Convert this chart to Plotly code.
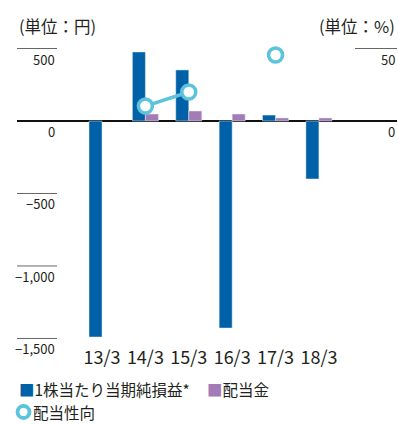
import plotly.graph_objects as go

years = ["13/3", "14/3", "15/3", "16/3", "17/3", "18/3"]
eps = [-1490, 476, 352, -1428, 41, -400]          # 1株当たり当期純損益（円）
dividend = [None, 48, 69, 48, 21, 21]             # 配当金（円）
payout = [None, 10.3, 20.0, None, 45.5, None]     # 配当性向（%）

left_ticks = [500, -500, -1000, -1500]
left_labels = ["500", "−500", "−1,000", "−1,500"]
right_ticks = [50]
right_labels = ["50"]

BLUE = "#0060a8"
PURPLE = "#a27bb7"
CYAN = "#5bc3dc"
TEXT = "#231f20"
FONT = "Noto Sans CJK JP, Open Sans, sans-serif"

W, H = 398, 424
L, R, T, B = 17, 1, 40, 79
plot_w = W - L - R
plot_h = H - T - B

fig = go.Figure()
fig.add_trace(go.Bar(x=years, y=eps, marker_color=BLUE, offsetgroup="a",
                     name="1株当たり当期純損益*"))
fig.add_trace(go.Bar(x=years, y=dividend, marker_color=PURPLE, offsetgroup="b",
                     name="配当金"))
fig.add_trace(go.Scatter(x=years, y=payout, yaxis="y2", mode="lines+markers",
                         connectgaps=False, name="配当性向",
                         line=dict(color=CYAN, width=3.5),
                         marker=dict(size=14, color="white",
                                     line=dict(color=CYAN, width=3.5))))

ymin, ymax = -1545, 558.6

ann = []
shapes = []
# 左軸の目盛り（短い線 + その下のラベル）
lx = (57 - L) / plot_w
for v, t in zip(left_ticks, left_labels):
    shapes.append(dict(type="line", xref="paper", yref="y", x0=0, x1=lx, y0=v, y1=v,
                       line=dict(color="#666", width=1)))
    ann.append(dict(text=t, xref="paper", yref="y", x=lx, y=v, xanchor="right",
                    yanchor="top", yshift=1, showarrow=False,
                    font=dict(size=13, color=TEXT)))
ann.append(dict(text="0", xref="paper", yref="y", x=lx, y=0, xanchor="right",
                yanchor="top", yshift=1, showarrow=False, font=dict(size=13, color=TEXT)))
# 右軸
rx0 = (355 - L) / plot_w
for v, t in zip(right_ticks, right_labels):
    shapes.append(dict(type="line", xref="paper", yref="y2", x0=rx0, x1=1, y0=v, y1=v,
                       line=dict(color="#666", width=1)))
    ann.append(dict(text=t, xref="paper", yref="y2", x=1, y=v, xanchor="right",
                    yanchor="top", yshift=1, showarrow=False,
                    font=dict(size=13, color=TEXT)))
ann.append(dict(text="0", xref="paper", yref="y2", x=1, y=0, xanchor="right",
                yanchor="top", yshift=1, showarrow=False, font=dict(size=13, color=TEXT)))

# 単位
ann.append(dict(text="(単位：円)", xref="paper", yref="paper", x=0, y=1 + 14 / plot_h,
                xanchor="left", yanchor="middle", showarrow=False,
                font=dict(size=16.5, color=TEXT)))
ann.append(dict(text="(単位：%)", xref="paper", yref="paper", x=1, y=1 + 14 / plot_h,
                xanchor="right", yanchor="middle", showarrow=False,
                font=dict(size=16.5, color=TEXT)))

# 凡例
row1 = -(389 - 345) / plot_h
row2 = -(412 - 345) / plot_h
ann.append(dict(text=f"<span style='color:{BLUE}'>■</span>1株当たり当期純損益*",
                xref="paper", yref="paper", x=0, y=row1,
                xanchor="left", yanchor="middle", showarrow=False,
                font=dict(size=15.5, color=TEXT)))
ann.append(dict(text=f"<span style='color:{PURPLE}'>■</span>配当金",
                xref="paper", yref="paper", x=(205 - L) / plot_w, y=row1,
                xanchor="left", yanchor="middle", showarrow=False,
                font=dict(size=15.5, color=TEXT)))
ann.append(dict(text="配当性向",
                xref="paper", yref="paper", x=(31 - L) / plot_w, y=row2,
                xanchor="left", yanchor="middle", showarrow=False,
                font=dict(size=15.5, color=TEXT)))
shapes.append(dict(type="circle", xref="paper", yref="paper",
                   xsizemode="pixel", ysizemode="pixel",
                   xanchor=(23.5 - L) / plot_w, yanchor=row2,
                   x0=-6, x1=6, y0=-6, y1=6,
                   line=dict(color=CYAN, width=3.8), fillcolor="white"))

fig.update_layout(
    width=W, height=H,
    margin=dict(l=L, r=R, t=T, b=B),
    paper_bgcolor="white", plot_bgcolor="white",
    font=dict(family=FONT, color=TEXT),
    barmode="group", bargap=0.4, bargroupgap=0,
    showlegend=False,
    xaxis=dict(type="category", range=[-1.96, 6.8], showgrid=False, showline=False,
               ticks="", tickfont=dict(size=18, color=TEXT)),
    yaxis=dict(range=[ymin, ymax], showgrid=False, showticklabels=False,
               zeroline=True, zerolinecolor="#111", zerolinewidth=1.5),
    yaxis2=dict(range=[ymin / 10, ymax / 10], overlaying="y", side="right",
                showgrid=False, showticklabels=False, zeroline=False),
    annotations=ann,
    shapes=shapes,
)

fig.write_html("out.html", config={"displayModeBar": False},
               post_script="document.body.style.margin='0';")
